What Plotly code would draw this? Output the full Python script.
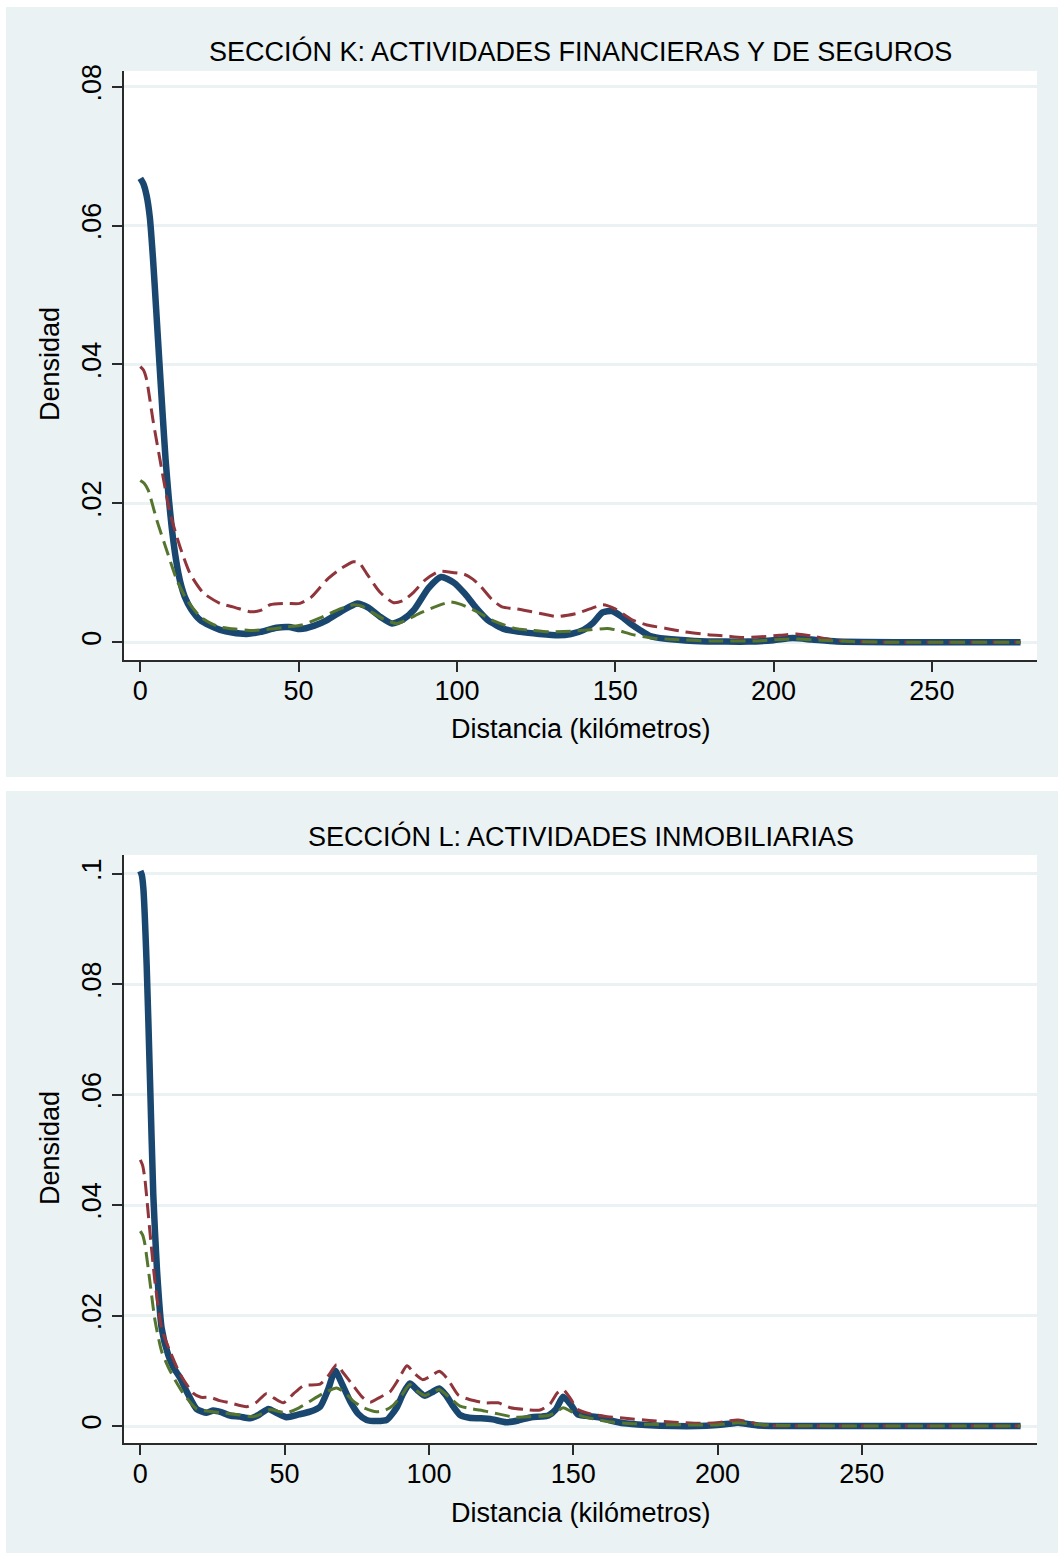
import plotly.graph_objects as go

# ---------------- data ----------------
# Panel K
k_navy_x = [0, 1, 2, 3, 4, 5, 6, 7, 8, 9, 10, 11, 12, 13, 14, 16, 18.9, 22, 25.2, 29, 33.6, 38, 43, 47, 50.5,
            55, 59, 64, 68.5, 72, 76, 79.5, 83, 86.5, 91, 95, 99, 102.5, 106, 110, 115, 120, 126, 132, 136,
            140, 143, 146, 149, 152, 155, 158, 161, 166, 175, 185, 192, 200, 206, 212, 220, 240, 260, 278]
k_navy_y = [0.0668, 0.0660, 0.0643, 0.0612, 0.0553, 0.0480, 0.0405, 0.0332, 0.0262, 0.0207, 0.0162, 0.0127,
            0.0100, 0.0080, 0.0066, 0.0048, 0.0032, 0.0024, 0.0018, 0.0014, 0.0012, 0.0015, 0.0021, 0.0022, 0.0019,
            0.0024, 0.0032, 0.0046, 0.0056, 0.0050, 0.0036, 0.0027, 0.0033, 0.0047, 0.0078,
            0.0094, 0.0086, 0.0070, 0.0050, 0.0031, 0.0019, 0.0015, 0.0012, 0.0010, 0.0012,
            0.0018, 0.0028, 0.0043, 0.0045, 0.0037, 0.0026, 0.0017, 0.0009, 0.0005, 0.0002,
            0.0001, 0.0001, 0.0003, 0.0006, 0.0004, 0.0001, 0.0, 0.0, 0.0]

k_maroon_x = [0, 1, 2, 4, 6.8, 9.4, 12.5, 15.7, 19.9, 25.2, 30, 34.6, 38, 41, 46, 50.4, 54, 58.9, 63, 67.3, 69,
              71.5, 75.7, 80, 83, 86.3, 90, 94.3, 98, 102.3, 105, 107.6, 111, 114.2, 119, 123.6, 128, 131.6,
              135, 138.2, 142, 146.1, 150, 155.5, 160, 166.1, 172, 179.4, 185, 190, 196, 202, 207.3, 212,
              219.3, 225, 240, 260, 278]
k_maroon_y = [0.0397, 0.0392, 0.0378, 0.0320, 0.0248, 0.0186, 0.0138, 0.0099, 0.0071, 0.0056, 0.0050,
              0.0044, 0.0046, 0.0054, 0.0056, 0.0056, 0.0065, 0.0090, 0.0105, 0.0116, 0.0115,
              0.0099, 0.0072, 0.0057, 0.0060, 0.0072, 0.0090, 0.0102, 0.0101, 0.0098, 0.0091,
              0.0080, 0.0062, 0.0051, 0.0048, 0.0044, 0.0040, 0.0037, 0.0039, 0.0042, 0.0048,
              0.0054, 0.0048, 0.0032, 0.0025, 0.0020, 0.0015, 0.0011, 0.0009, 0.0007, 0.0008,
              0.0010, 0.0012, 0.0009, 0.0003, 0.0001, 0.0, 0.0, 0.0]

k_green_x = [0, 1.2, 2.5, 5.2, 8.3, 11.5, 14.7, 18.9, 22, 25.2, 30, 35.7, 41, 46.2, 51, 56.8, 62, 67.3, 70, 73.6, 77,
             81, 84.5, 88.3, 93, 97.8, 101, 106.3, 112, 118.3, 124, 129, 136, 142.2, 147.5, 151, 155.5, 162,
             168.8, 180, 195, 206, 215, 225, 240, 260, 278]
k_green_y = [0.0233, 0.0229, 0.0219, 0.0176, 0.0133, 0.0090, 0.0061, 0.0037, 0.0028, 0.0022, 0.0019,
             0.0017, 0.0019, 0.0022, 0.0025, 0.0035, 0.0046, 0.0054, 0.0052, 0.0042, 0.0033,
             0.0027, 0.0033, 0.0042, 0.0051, 0.0058, 0.0055, 0.0044, 0.0030, 0.0020, 0.0017,
             0.0015, 0.0016, 0.0018, 0.0020, 0.0017, 0.0011, 0.0006, 0.0004, 0.0002, 0.0002,
             0.0005, 0.0003, 0.0001, 0.0, 0.0, 0.0]

# Panel L
l_navy_x = [0, 0.5, 1.05, 2.2, 3.36, 4.5, 5.8, 7.4, 9.7, 11.5, 13.8, 16.5, 19.5, 23, 25.3, 28, 31.1, 34.5, 38, 41, 44.4,
            47.5, 50.7, 55, 58.8, 62.3, 65, 67.5, 70, 72.7, 75.5, 78.4, 82, 85.4, 88.8, 91, 93.4, 96, 98.5, 101,
            103.6, 106, 108.5, 110.8, 114, 118, 122, 126.8, 131, 135.5, 139, 141.4, 144, 146.5, 149, 151.6, 155,
            158.9, 163, 167.6, 175, 185, 193, 200, 204, 207, 210, 214, 225, 250, 280, 305]
l_navy_y = [0.1005, 0.0998, 0.0974, 0.0835, 0.0627, 0.0419, 0.0281, 0.0177, 0.0128, 0.0106, 0.0087,
            0.0058, 0.0031, 0.0024, 0.0028, 0.0025, 0.0019, 0.0017, 0.0014, 0.0020, 0.0031,
            0.0023, 0.0016, 0.0021, 0.0026, 0.0035, 0.0065, 0.0100, 0.0075, 0.0045, 0.0022,
            0.0011, 0.0009, 0.0011, 0.0033, 0.0058, 0.0077, 0.0065, 0.0055, 0.0061, 0.0068,
            0.0055, 0.0035, 0.0020, 0.0015, 0.0014, 0.0012, 0.0007, 0.0010, 0.0016, 0.0017,
            0.0019, 0.0030, 0.0053, 0.0040, 0.0021, 0.0018, 0.0016, 0.0010, 0.0005, 0.0002,
            0.0, 0.0, 0.0002, 0.0004, 0.0006, 0.0004, 0.0001, 0.0, 0.0, 0.0, 0.0]

l_maroon_x = [0, 0.8, 1.6, 3.36, 5.1, 7.4, 10.3, 13.8, 18.4, 21, 24.2, 27.5, 31.1, 36.9, 40, 43.8, 46.5, 49.6, 53, 56.5,
              62.3, 65, 68, 70.5, 73.8, 77, 79.6, 83, 86.5, 89.5, 92.4, 95, 97.8, 100.5, 103.6, 106.5, 110.2, 114,
              119.5, 124, 128.3, 133, 138.5, 142, 144.5, 146.5, 149, 151.6, 156, 161.8, 168, 176.4, 185, 193.9,
              200, 207, 212, 216, 225, 250, 280, 305]
l_maroon_y = [0.0482, 0.0472, 0.0447, 0.0350, 0.0260, 0.0177, 0.0135, 0.0094, 0.0059, 0.0052, 0.0052,
              0.0046, 0.0042, 0.0035, 0.0042, 0.0059, 0.0050, 0.0042, 0.0058, 0.0073, 0.0076,
              0.0090, 0.0111, 0.0095, 0.0073, 0.0052, 0.0043, 0.0052, 0.0062, 0.0085, 0.0109,
              0.0095, 0.0084, 0.0090, 0.0099, 0.0085, 0.0056, 0.0048, 0.0042, 0.0042, 0.0033,
              0.0030, 0.0029, 0.0040, 0.0060, 0.0066, 0.0050, 0.0030, 0.0022, 0.0017, 0.0014,
              0.0010, 0.0007, 0.0005, 0.0006, 0.0011, 0.0006, 0.0001, 0.0, 0.0, 0.0, 0.0]

l_green_x = [0, 0.8, 1.6, 3.36, 5.1, 7.4, 10.3, 14.9, 19.5, 23, 27.7, 33, 39.2, 42, 44.9, 47.5, 50.7, 55, 58.8, 63, 68,
             71, 73.8, 77.5, 81.9, 85, 87.7, 90.5, 93.4, 96, 98.6, 101, 103.6, 107, 110.8, 115, 119.5, 124,
             129.7, 135, 141.4, 144, 146.5, 149, 153, 157, 161.8, 168, 176.4, 190, 200, 207, 213, 222, 250, 280, 305]
l_green_y = [0.0353, 0.0346, 0.0329, 0.0260, 0.0191, 0.0135, 0.0100, 0.0059, 0.0031, 0.0027, 0.0024,
             0.0021, 0.0017, 0.0022, 0.0030, 0.0027, 0.0024, 0.0033, 0.0045, 0.0058, 0.0069,
             0.0060, 0.0045, 0.0033, 0.0026, 0.0029, 0.0038, 0.0055, 0.0075, 0.0063, 0.0055,
             0.0061, 0.0066, 0.0052, 0.0036, 0.0031, 0.0027, 0.0022, 0.0016, 0.0017, 0.0019,
             0.0025, 0.0033, 0.0027, 0.0018, 0.0013, 0.0008, 0.0005, 0.0003, 0.0002, 0.0002,
             0.0006, 0.0003, 0.0001, 0.0, 0.0, 0.0]

x_ticks = [0, 50, 100, 150, 200, 250]
k_y_ticks = [0, 0.02, 0.04, 0.06, 0.08]
k_y_labels = ["0", ".02", ".04", ".06", ".08"]
l_y_ticks = [0, 0.02, 0.04, 0.06, 0.08, 0.1]
l_y_labels = ["0", ".02", ".04", ".06", ".08", ".1"]

title_k = "SECCIÓN K: ACTIVIDADES FINANCIERAS Y DE SEGUROS"
title_l = "SECCIÓN L: ACTIVIDADES INMOBILIARIAS"
x_title = "Distancia (kilómetros)"
y_title = "Densidad"

# ---------------- layout helpers ----------------
W, H = 1058, 1553
BG = "#EAF2F3"
NAVY = "#1A476F"
MAROON = "#90353B"
GREEN = "#55752F"
FONT = "Liberation Sans, Arial, sans-serif"
FS = 27


def px_x(p):
    return p / W


def px_y(p):
    return 1 - p / H


fig = go.Figure()


def add_traces(nav, mar, grn, xa, ya):
    fig.add_trace(go.Scatter(x=nav[0], y=nav[1], mode="lines", xaxis=xa, yaxis=ya,
                             line=dict(color=NAVY, width=6.5, shape="spline", smoothing=0.6),
                             showlegend=False, hoverinfo="skip"))
    fig.add_trace(go.Scatter(x=mar[0], y=mar[1], mode="lines", xaxis=xa, yaxis=ya,
                             line=dict(color=MAROON, width=3, dash="15px,7px", shape="spline", smoothing=0.6),
                             showlegend=False, hoverinfo="skip"))
    fig.add_trace(go.Scatter(x=grn[0], y=grn[1], mode="lines", xaxis=xa, yaxis=ya,
                             line=dict(color=GREEN, width=3, dash="15px,7px", shape="spline", smoothing=0.6),
                             showlegend=False, hoverinfo="skip"))


add_traces((k_navy_x, k_navy_y), (k_maroon_x, k_maroon_y), (k_green_x, k_green_y), "x", "y")
add_traces((l_navy_x, l_navy_y), (l_maroon_x, l_maroon_y), (l_green_x, l_green_y), "x2", "y2")

axis_common = dict(showline=True, linecolor="#2a2a2a", linewidth=1.5, ticks="outside", ticklen=10,
                   tickwidth=1.5, tickcolor="#2a2a2a", zeroline=False, automargin=False,
                   tickfont=dict(family=FONT, size=FS, color="black"))

xdom = [px_x(124), px_x(1037)]

fig.update_layout(
    width=W, height=H,
    margin=dict(l=0, r=0, t=0, b=0, autoexpand=False),
    paper_bgcolor=BG,
    plot_bgcolor="white",
    xaxis=dict(domain=xdom, anchor="y", range=[-5.15, 283.2], tickvals=x_ticks, showgrid=False,
               ticklabelstandoff=-4, **axis_common),
    yaxis=dict(domain=[px_y(660), px_y(71)], anchor="x", range=[-0.00255, 0.08226],
               tickvals=k_y_ticks, ticktext=k_y_labels, tickangle=-90,
               showgrid=True, gridcolor=BG, gridwidth=2.5, **axis_common),
    xaxis2=dict(domain=xdom, anchor="y2", range=[-5.65, 310.7], tickvals=x_ticks, showgrid=False,
                ticklabelstandoff=-4, **axis_common),
    yaxis2=dict(domain=[px_y(1443.3), px_y(855)], anchor="x2", range=[-0.00313, 0.1034],
                tickvals=l_y_ticks, ticktext=l_y_labels, tickangle=-90,
                showgrid=True, gridcolor=BG, gridwidth=2.5, **axis_common),
)

# white margins / gap between the two panels
fig.add_shape(type="rect", xref="paper", yref="paper", x0=0, x1=px_x(6), y0=0, y1=1,
              fillcolor="white", line_width=0, layer="below")
fig.add_shape(type="rect", xref="paper", yref="paper", x0=0, x1=1, y0=px_y(7), y1=1,
              fillcolor="white", line_width=0, layer="below")
fig.add_shape(type="rect", xref="paper", yref="paper", x0=0, x1=1, y0=px_y(791), y1=px_y(777),
              fillcolor="white", line_width=0, layer="below")


def ann(text, x, y, angle=0):
    fig.add_annotation(text=text, x=px_x(x), y=px_y(y), xref="paper", yref="paper",
                       showarrow=False, textangle=angle, xanchor="center", yanchor="middle",
                       font=dict(family=FONT, size=FS, color="black"))


ann(title_k, 580.5, 51)
ann(x_title, 580.5, 729)
ann(y_title, 50, 364, -90)
ann(title_l, 580.5, 836)
ann(x_title, 580.5, 1513)
ann(y_title, 50, 1148, -90)

fig.write_html("out.html", post_script="document.body.style.margin='0';document.body.style.padding='0';")
